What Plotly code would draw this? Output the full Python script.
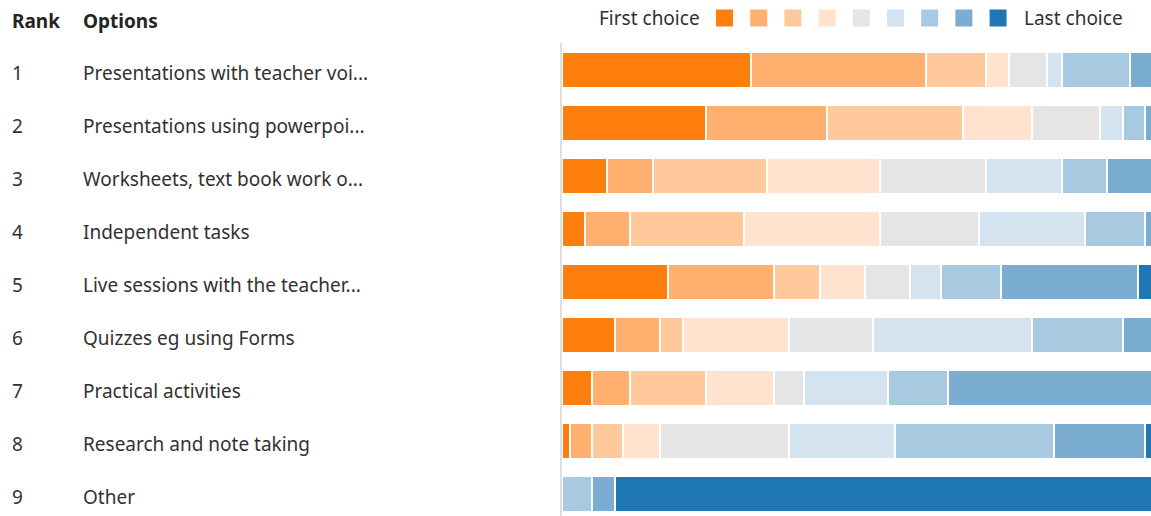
import plotly.graph_objects as go

# ---- data (counts of respondents placing each option at each rank position) ----
ranks = ["1", "2", "3", "4", "5", "6", "7", "8", "9"]
options = [
    "Presentations with teacher voi...",
    "Presentations using powerpoi...",
    "Worksheets, text book work o...",
    "Independent tasks",
    "Live sessions with the teacher...",
    "Quizzes eg using Forms",
    "Practical activities",
    "Research and note taking",
    "Other",
]
choice1 = [25, 19, 6, 3, 14, 7, 4, 1, 0]
choice2 = [23, 16, 6, 6, 14, 6, 5, 3, 0]
choice3 = [8, 18, 15, 15, 6, 3, 10, 4, 0]
choice4 = [3, 9, 15, 18, 6, 14, 9, 5, 0]
choice5 = [5, 9, 14, 13, 6, 11, 4, 17, 0]
choice6 = [2, 3, 10, 14, 4, 21, 11, 14, 0]
choice7 = [9, 3, 6, 8, 8, 12, 8, 21, 4]
choice8 = [3, 2, 6, 2, 18, 5, 28, 12, 3]
choice9 = [1, 0, 1, 0, 3, 0, 0, 2, 72]
series = [choice1, choice2, choice3, choice4, choice5, choice6, choice7, choice8, choice9]
legend_first = "First choice"
legend_last = "Last choice"
header_rank = "Rank"
header_options = "Options"

# ---- styling ----
COLORS = ["#ff7f0e", "#ffb06e", "#ffc99c", "#ffe3cf", "#e5e5e5",
          "#d3e3f0", "#a8cae1", "#7badd2", "#1f77b4"]
FONT = "Noto Sans"
FS = 19
TXT = "#323130"
W, H = 1151, 516
L, T = 562, 43
PW, PH = W - L, H - T
VISIBLE_UNITS = 77.76

def px_x(px):
    return (px - L) / PW

def px_y(py):
    return (H - py) / PH

ypos = list(range(len(options)))

fig = go.Figure()
for i, vals in enumerate(series):
    fig.add_trace(go.Bar(
        x=vals, y=ypos, orientation="h",
        marker=dict(color=COLORS[i], line=dict(color="white", width=2)),
        width=0.69, hoverinfo="skip", showlegend=False,
    ))

ann = []
# headers
ann.append(dict(text="<b>%s</b>" % header_rank, x=px_x(10), y=px_y(21), xref="paper", yref="paper",
                xanchor="left", yanchor="middle", showarrow=False,
                font=dict(family=FONT, size=FS, color="#252423")))
ann.append(dict(text="<b>%s</b>" % header_options, x=px_x(81), y=px_y(21), xref="paper", yref="paper",
                xanchor="left", yanchor="middle", showarrow=False,
                font=dict(family=FONT, size=FS, color="#252423")))
for r, opt, yy in zip(ranks, options, ypos):
    ann.append(dict(text=r, x=px_x(10), y=yy + 0.06, xref="paper", yref="y",
                    xanchor="left", yanchor="middle", showarrow=False,
                    font=dict(family=FONT, size=FS, color=TXT)))
    ann.append(dict(text=opt, x=px_x(81), y=yy + 0.06, xref="paper", yref="y",
                    xanchor="left", yanchor="middle", showarrow=False,
                    font=dict(family=FONT, size=FS, color=TXT)))

# legend
ann.append(dict(text=legend_first, x=px_x(702), y=px_y(18), xref="paper", yref="paper",
                xanchor="right", yanchor="middle", showarrow=False,
                font=dict(family=FONT, size=FS, color=TXT)))
ann.append(dict(text=legend_last, x=px_x(1022), y=px_y(18), xref="paper", yref="paper",
                xanchor="left", yanchor="middle", showarrow=False,
                font=dict(family=FONT, size=FS, color=TXT)))
shapes = []
for i, c in enumerate(COLORS):
    x0 = 716 + i * 34.2
    shapes.append(dict(type="rect", xref="paper", yref="paper",
                       x0=px_x(x0), x1=px_x(x0 + 17), y0=px_y(26.5), y1=px_y(9.5),
                       fillcolor=c, line=dict(width=0)))

fig.update_layout(
    barmode="stack",
    width=W, height=H,
    margin=dict(l=L, r=0, t=T, b=0, pad=0),
    paper_bgcolor="white", plot_bgcolor="white",
    xaxis=dict(range=[0, VISIBLE_UNITS], visible=False, fixedrange=True),
    yaxis=dict(range=[8.415, -0.509], showticklabels=False, showgrid=False,
               zeroline=False, showline=True, linecolor="#e1dfdd", linewidth=2,
               ticks="", layer="below traces", fixedrange=True),
    annotations=ann, shapes=shapes,
    bargap=0.3, showlegend=False,
)
fig.write_html("out.html", config={"displayModeBar": False},
               post_script="document.body.style.margin='0';document.body.style.overflow='hidden';")
